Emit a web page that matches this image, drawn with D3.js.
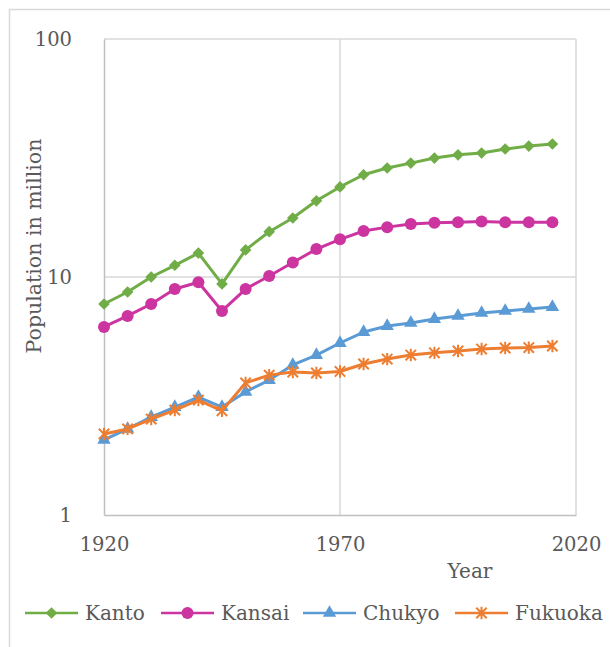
<!DOCTYPE html>
<html>
<head>
<meta charset="utf-8">
<script src="https://cdn.jsdelivr.net/npm/d3@7"></script>
<style>
  body { margin: 0; background: #fff; }
  text { font-family: "DejaVu Serif", serif; fill: #595959; }
</style>
</head>
<body>
<svg id="chart" width="610" height="647"></svg>
<script>
// Data
var years = [1920, 1925, 1930, 1935, 1940, 1945, 1950, 1955, 1960, 1965,
             1970, 1975, 1980, 1985, 1990, 1995, 2000, 2005, 2010, 2015];
var kanto   = [7.7, 8.65, 10.0, 11.2, 12.6, 9.35, 13.0, 15.5, 17.7, 20.9,
               23.9, 26.9, 28.7, 30.1, 31.6, 32.6, 33.2, 34.5, 35.5, 36.2];
var kansai  = [6.17, 6.86, 7.7, 8.9, 9.5, 7.2, 8.9, 10.1, 11.5, 13.1,
               14.4, 15.6, 16.2, 16.7, 16.9, 17.0, 17.1, 17.0, 17.0, 17.0];
var chukyo  = [2.07, 2.30, 2.58, 2.84, 3.13, 2.84, 3.29, 3.69, 4.27, 4.70,
               5.28, 5.87, 6.22, 6.41, 6.66, 6.86, 7.06, 7.20, 7.34, 7.48];
var fukuoka = [2.19, 2.30, 2.53, 2.76, 3.04, 2.74, 3.59, 3.87, 3.99, 3.95,
               4.01, 4.31, 4.52, 4.70, 4.80, 4.89, 4.98, 5.03, 5.05, 5.13];
var seriesNames = ['Kanto', 'Kansai', 'Chukyo', 'Fukuoka'];
var xTicks = [1920, 1970, 2020];
var yTicks = [1, 10, 100];

var colors = { Kanto: '#70AD47', Kansai: '#CC34A0', Chukyo: '#5B9BD5', Fukuoka: '#ED7D31' };
var shapes = { Kanto: 'diamond', Kansai: 'circle', Chukyo: 'triangle', Fukuoka: 'asterisk' };
var series = [
  { name: 'Kanto', values: kanto },
  { name: 'Kansai', values: kansai },
  { name: 'Chukyo', values: chukyo },
  { name: 'Fukuoka', values: fukuoka }
];

var svg = d3.select('#chart');

// outer chart border (cropped at right/bottom)
svg.append('rect')
  .attr('x', 9.5).attr('y', 9.5)
  .attr('width', 640).attr('height', 680)
  .attr('fill', 'none').attr('stroke', '#D9D9D9').attr('stroke-width', 1.5);

var x = d3.scaleLinear().domain([1920, 2020]).range([104, 576]);
var y = d3.scaleLog().domain([1, 100]).range([515, 39]);

// gridlines
var grid = svg.append('g');
grid.selectAll('.hg').data([10, 100]).enter().append('line')
  .attr('x1', x(1920)).attr('x2', x(2020))
  .attr('y1', function (d) { return y(d); }).attr('y2', function (d) { return y(d); })
  .attr('stroke', '#D9D9D9').attr('stroke-width', 1.5);
grid.selectAll('.vg').data([1970, 2020]).enter().append('line')
  .attr('y1', y(1)).attr('y2', y(100))
  .attr('x1', function (d) { return x(d); }).attr('x2', function (d) { return x(d); })
  .attr('stroke', '#D9D9D9').attr('stroke-width', 1.5);

// axes
var xAxis = d3.axisBottom(x).tickValues(xTicks).tickFormat(d3.format('d')).tickSize(0).tickPadding(22);
var yAxis = d3.axisLeft(y).tickValues(yTicks).tickFormat(d3.format('d')).tickSize(0).tickPadding(32);

var gx = svg.append('g').attr('transform', 'translate(0,' + y(1) + ')').call(xAxis);
var gy = svg.append('g').attr('transform', 'translate(' + x(1920) + ',0)').call(yAxis);
[gx, gy].forEach(function (g) {
  g.select('.domain').attr('stroke', '#BFBFBF').attr('stroke-width', 1.5);
  g.selectAll('text').style('font-size', '19.5px').attr('fill', '#595959');
});
gy.selectAll('text').attr('dy', '0.35em');

// axis titles
svg.append('text')
  .attr('x', 470).attr('y', 578)
  .attr('text-anchor', 'middle')
  .style('font-size', '20px')
  .text('Year');
svg.append('text')
  .attr('transform', 'translate(41,246) rotate(-90)')
  .attr('text-anchor', 'middle')
  .style('font-size', '20.5px')
  .text('Population in million');

// marker drawing
function drawMarker(g, shape, color, cx, cy) {
  if (shape === 'diamond') {
    g.append('path')
      .attr('d', d3.symbol().type(d3.symbolSquare).size(68)())
      .attr('transform', 'translate(' + cx + ',' + cy + ') rotate(45)')
      .attr('fill', color);
  } else if (shape === 'circle') {
    g.append('circle').attr('cx', cx).attr('cy', cy).attr('r', 6).attr('fill', color);
  } else if (shape === 'triangle') {
    g.append('path')
      .attr('d', d3.symbol().type(d3.symbolTriangle).size(78)())
      .attr('transform', 'translate(' + cx + ',' + cy + ')')
      .attr('fill', color);
  } else {
    var r = 5.2;
    g.append('path')
      .attr('d', 'M' + (cx - r) + ',' + (cy - r) + 'L' + (cx + r) + ',' + (cy + r) +
                 'M' + (cx - r) + ',' + (cy + r) + 'L' + (cx + r) + ',' + (cy - r) +
                 'M' + cx + ',' + (cy - r - 1) + 'L' + cx + ',' + (cy + r + 1))
      .attr('stroke', color).attr('stroke-width', 2).attr('fill', 'none');
  }
}

var line = d3.line()
  .x(function (d, i) { return x(years[i]); })
  .y(function (d) { return y(d); });

var plot = svg.append('g');
series.forEach(function (s) {
  var g = plot.append('g');
  g.append('path')
    .attr('d', line(s.values))
    .attr('fill', 'none')
    .attr('stroke', colors[s.name])
    .attr('stroke-width', 3)
    .attr('stroke-linejoin', 'round');
  s.values.forEach(function (v, i) {
    drawMarker(g, shapes[s.name], colors[s.name], x(years[i]), y(v));
  });
});

// legend
var legendX = [25, 161, 303, 455];
var legend = svg.append('g');
seriesNames.forEach(function (name, i) {
  var lx = legendX[i], ly = 613;
  var lg = legend.append('g');
  lg.append('line')
    .attr('x1', lx).attr('x2', lx + 53)
    .attr('y1', ly).attr('y2', ly)
    .attr('stroke', colors[name]).attr('stroke-width', 2.5);
  drawMarker(lg, shapes[name], colors[name], lx + 26.5, ly);
  lg.append('text')
    .attr('x', lx + 60).attr('y', ly)
    .attr('dy', '0.35em')
    .style('font-size', '20px')
    .text(name);
});
</script>
</body>
</html>
